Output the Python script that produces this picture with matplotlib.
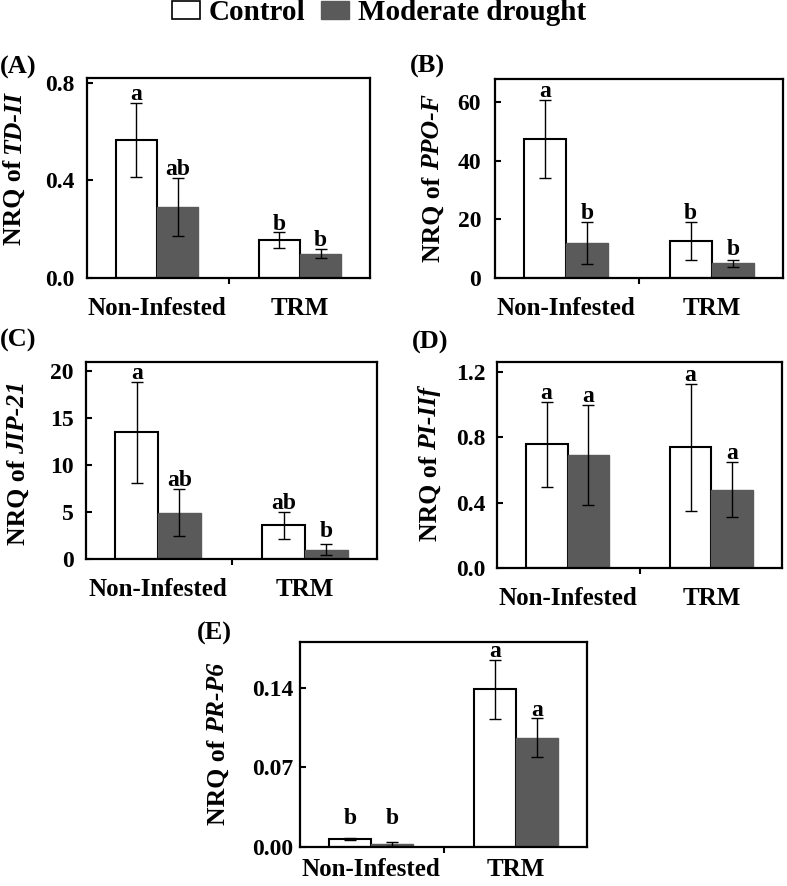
import matplotlib
matplotlib.use('Agg')
import matplotlib.pyplot as plt
from matplotlib.patches import Patch
from matplotlib.ticker import FormatStrFormatter
import numpy as np

plt.rcParams['font.family'] = ['Liberation Serif', 'DejaVu Serif']
plt.rcParams['font.weight'] = 'bold'

# ---------------- data ----------------
groups = ['Non-Infested', 'TRM']
series_names = ['Control', 'Moderate drought']
genes = ['TD-II', 'PPO-F', 'JIP-21', 'PI-IIf', 'PR-P6']
panel_tags = ['(A)', '(B)', '(C)', '(D)', '(E)']

td2_control = [0.565, 0.156]
td2_control_err = [0.152, 0.031]
td2_drought = [0.292, 0.099]
td2_drought_err = [0.118, 0.019]
td2_letters_control = ['a', 'b']
td2_letters_drought = ['ab', 'b']

ppo_control = [47.6, 12.7]
ppo_control_err = [13.3, 6.6]
ppo_drought = [11.9, 5.0]
ppo_drought_err = [7.2, 1.3]
ppo_letters_control = ['a', 'b']
ppo_letters_drought = ['b', 'b']

jip_control = [13.5, 3.6]
jip_control_err = [5.4, 1.45]
jip_drought = [4.95, 1.0]
jip_drought_err = [2.55, 0.56]
jip_letters_control = ['a', 'ab']
jip_letters_drought = ['ab', 'b']

pi_control = [0.757, 0.738]
pi_control_err = [0.26, 0.39]
pi_drought = [0.693, 0.48]
pi_drought_err = [0.305, 0.17]
pi_letters_control = ['a', 'a']
pi_letters_drought = ['a', 'a']

pr_control = [0.007, 0.1385]
pr_control_err = [0.0008, 0.026]
pr_drought = [0.0026, 0.096]
pr_drought_err = [0.0015, 0.017]
pr_letters_control = ['b', 'a']
pr_letters_drought = ['b', 'a']

y_ticks = [[0, 0.4, 0.8], [0, 20, 40, 60], [0, 5, 10, 15, 20],
           [0, 0.4, 0.8, 1.2], [0, 0.07, 0.14]]
y_limits = [0.82, 68, 21, 1.26, 0.18]
y_formats = ['%.1f', '%d', '%d', '%.1f', '%.2f']

# ---------------- layout / style ----------------
W, H = 787, 886
fig = plt.figure(figsize=(W / 100, H / 100), dpi=100)
renderer = fig.canvas.get_renderer()

# axes in pixel coords: left, top, right, bottom
rects_px = [(87, 78, 370, 278), (495, 79, 783, 278), (86, 362, 377, 559),
            (497, 362, 782, 568), (300, 642, 587, 847)]
ylabel_px = [(12, 168), (431, 178), (16, 463), (428, 464), (216, 744)]
tag_px = [(0, 67), (410, 66), (0, 340), (412, 342), (197, 633)]
tick_pads = [9, 10, 9, 8, 5]
cat_pads = [14, 14, 14, 14, 8]

GRAY = '#5a5a5a'
bw = 0.29
TICK_FS = 17
CAT_FS = 18
YLAB_FS = 18.5
LET_FS = 17
TAG_FS = 19

data = [
    (td2_control, td2_control_err, td2_drought, td2_drought_err, td2_letters_control, td2_letters_drought),
    (ppo_control, ppo_control_err, ppo_drought, ppo_drought_err, ppo_letters_control, ppo_letters_drought),
    (jip_control, jip_control_err, jip_drought, jip_drought_err, jip_letters_control, jip_letters_drought),
    (pi_control, pi_control_err, pi_drought, pi_drought_err, pi_letters_control, pi_letters_drought),
    (pr_control, pr_control_err, pr_drought, pr_drought_err, pr_letters_control, pr_letters_drought),
]


def two_part_ylabel(xc, yc, gene, size):
    """'NRQ of ' upright bold + gene in bold italic, rotated 90 deg."""
    kw = dict(rotation=90, rotation_mode='anchor', ha='left', va='baseline',
              fontsize=size, fontweight='bold')
    t1 = fig.text(0, 0, 'NRQ of', **kw)
    t2 = fig.text(0, 0, gene, style='italic', **kw)
    h1 = t1.get_window_extent(renderer).height
    h2 = t2.get_window_extent(renderer).height
    gap = 0.25 * size * 100 / 72
    total = h1 + gap + h2
    xb = xc + 0.33 * size * 100 / 72
    y0 = (H - yc) - total / 2
    t1.set_position((xb / W, y0 / H))
    t2.set_position((xb / W, (y0 + h1 + gap) / H))


x = np.arange(len(groups))
for i, (c, ce, d, de, lc, ld) in enumerate(data):
    l, t, r, b = rects_px[i]
    ax = fig.add_axes([l / W, 1 - b / H, (r - l) / W, (b - t) / H])
    ekw = dict(elinewidth=1.0, capsize=4, capthick=1.0, ecolor='black')
    ax.bar(x - bw / 2, c, bw, color='white', edgecolor='black', linewidth=1.5,
           yerr=ce, error_kw=ekw, zorder=2)
    ax.bar(x + bw / 2, d, bw, color=GRAY, edgecolor=GRAY, linewidth=1.0,
           yerr=de, error_kw=ekw, zorder=2)
    ymax = y_limits[i]
    for xs, vals, errs, lets in [(x - bw / 2, c, ce, lc), (x + bw / 2, d, de, ld)]:
        for xx, v, e, lt in zip(xs, vals, errs, lets):
            yy = max(v + e, 0.1 * ymax)
            ax.annotate(lt, (xx, yy), xytext=(0, 2), textcoords='offset points',
                        ha='center', va='baseline', fontsize=LET_FS, fontweight='bold')
    ax.set_xlim(-0.49, 1.49)
    ax.set_ylim(0, ymax)
    ax.set_yticks(y_ticks[i])
    ax.yaxis.set_major_formatter(FormatStrFormatter(y_formats[i]))
    ax.set_xticks(x)
    ax.set_xticklabels(groups, fontsize=CAT_FS, fontweight='bold')
    ax.set_xticks([0.5], minor=True)
    ax.tick_params(axis='x', which='major', length=0, pad=cat_pads[i])
    ax.tick_params(axis='x', which='minor', direction='out', length=4.5, width=1.5)
    ax.tick_params(axis='y', direction='in', length=4, width=1.5,
                   labelsize=TICK_FS, pad=tick_pads[i])
    for lab in ax.get_yticklabels():
        lab.set_fontweight('bold')
    for s in ax.spines.values():
        s.set_linewidth(1.6)
    two_part_ylabel(ylabel_px[i][0], ylabel_px[i][1], genes[i], YLAB_FS)
    fig.text(tag_px[i][0] / W, 1 - tag_px[i][1] / H, panel_tags[i],
             ha='left', va='center', fontsize=TAG_FS, fontweight='bold')

handles = [Patch(facecolor='white', edgecolor='black', linewidth=1.2),
           Patch(facecolor=GRAY, edgecolor=GRAY)]
fig.legend(handles, series_names, loc='center', bbox_to_anchor=(379 / W, 1 - 13 / H),
           ncol=2, frameon=False, prop=dict(size=21, weight='bold'),
           handlelength=0.95, handleheight=0.6, handletextpad=0.3,
           columnspacing=0.55, borderpad=0)

fig.savefig('out.png', dpi=100)
